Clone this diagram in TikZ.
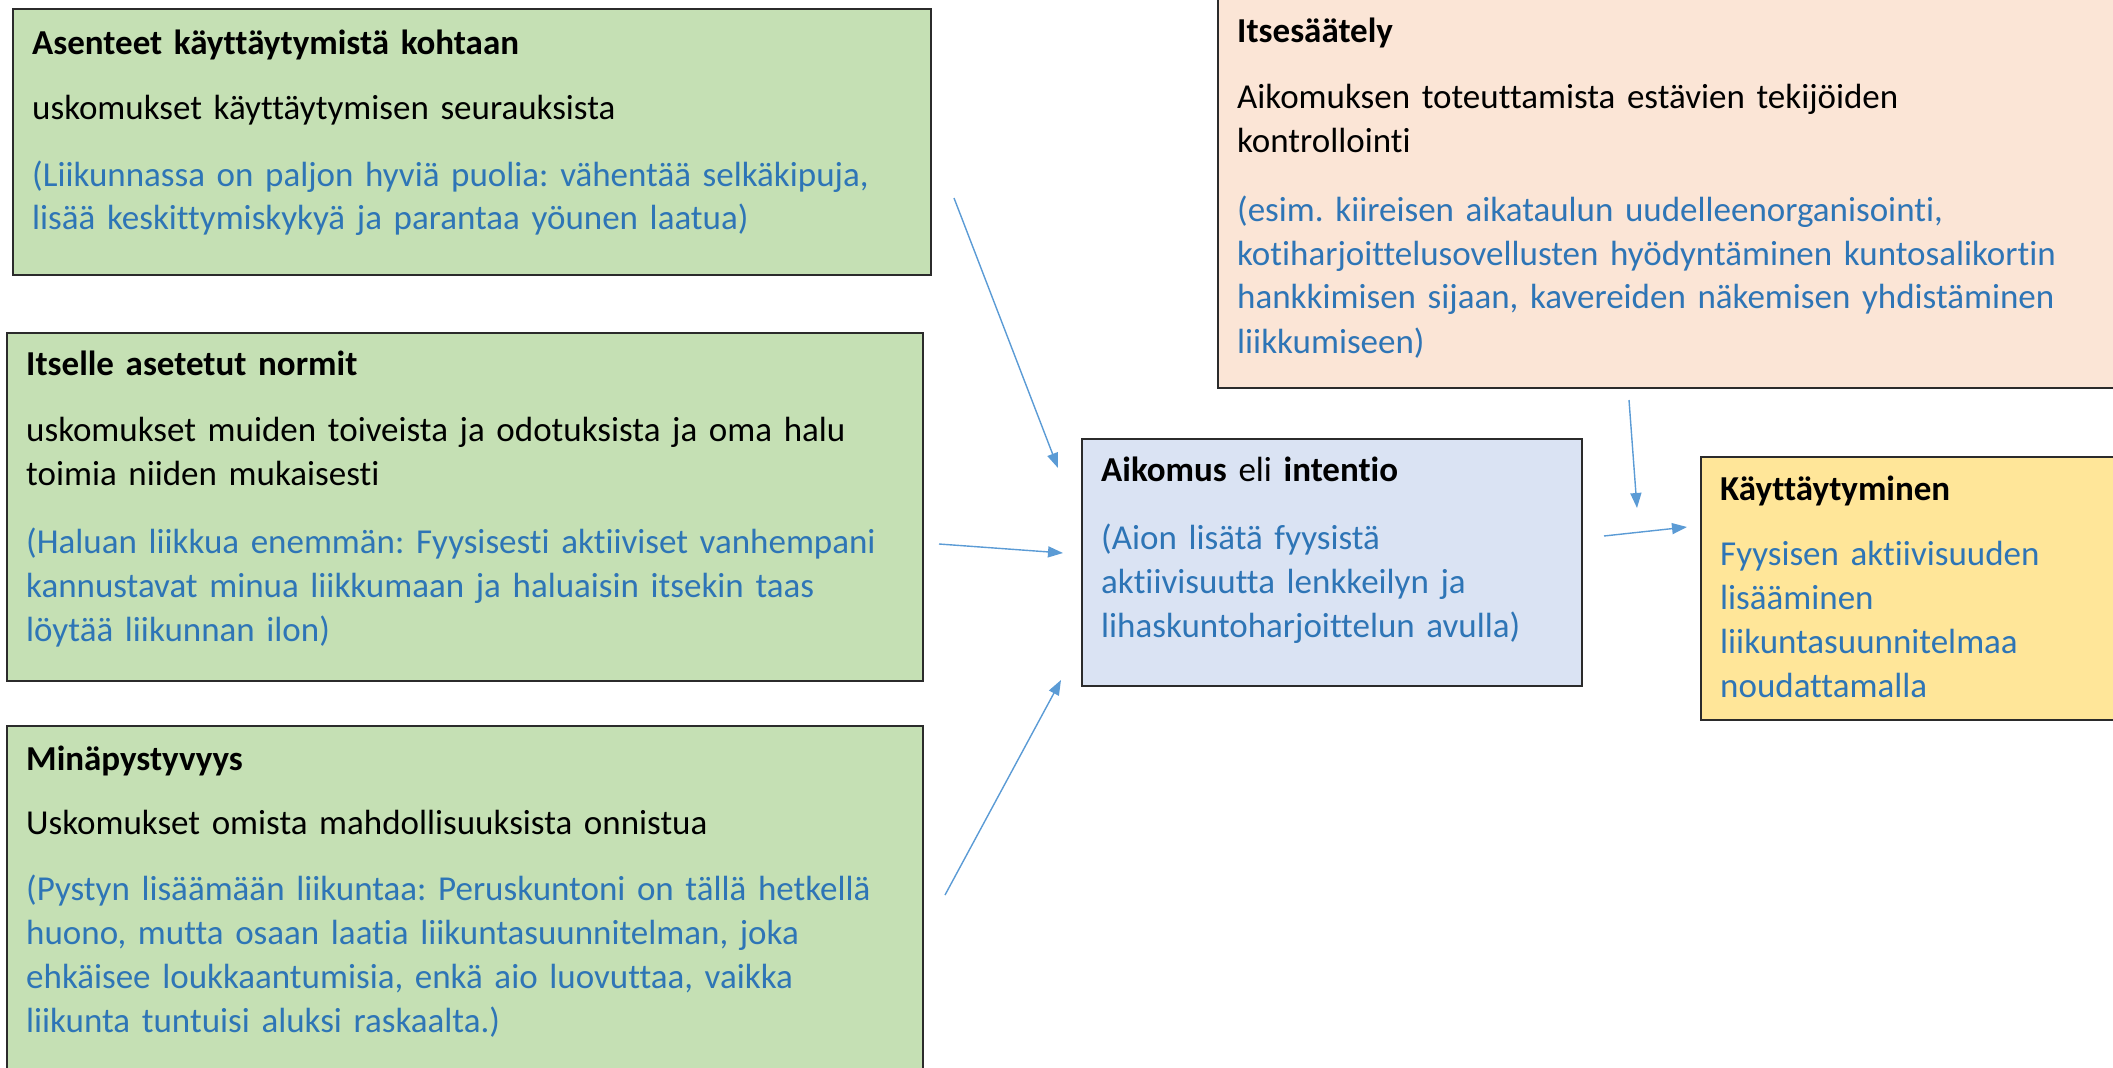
\documentclass[tikz,border=0pt]{standalone}
\usepackage{fontspec}
\setmainfont{Carlito}[Ligatures=NoCommon]
\usetikzlibrary{arrows.meta}
\definecolor{greenfill}{HTML}{C5E0B4}
\definecolor{peachfill}{HTML}{FBE5D6}
\definecolor{bluefill}{HTML}{DAE3F3}
\definecolor{yellowfill}{HTML}{FFE699}
\definecolor{boxline}{HTML}{2B2B2B}
\definecolor{exblue}{HTML}{2E75B6}
\definecolor{arrowblue}{HTML}{5B9BD5}
\frenchspacing
\begin{document}
\begin{tikzpicture}[x=1pt,y=-1pt,
  panel/.style={draw=boxline, line width=1.6pt, anchor=north west, inner sep=0pt, outer sep=0pt},
  txt/.style={anchor=base west, align=left, inner sep=0pt, text width=1100pt,
              font=\fontsize{35}{44}\selectfont},
  link/.style={draw=arrowblue, line width=1.4pt, -{Triangle[length=15pt,width=11pt]}}]
\useasboundingbox (0,0) rectangle (2113,1068);
\clip (0,0) rectangle (2113,1068);

% boxes
\node[panel, fill=greenfill, minimum width=918pt, minimum height=266pt] (asenteet) at (13,9) {};
\node[panel, fill=greenfill, minimum width=916pt, minimum height=348pt] (normit) at (7,333) {};
\node[panel, fill=greenfill, minimum width=916pt, minimum height=360pt] (mina) at (7,726) {};
\node[panel, fill=peachfill, minimum width=910pt, minimum height=400pt] (itse) at (1218,-12) {};
\node[panel, fill=bluefill, minimum width=500pt, minimum height=247pt] (aikomus) at (1082,439) {};
\node[panel, fill=yellowfill, minimum width=430pt, minimum height=263pt] (kayt) at (1701,457) {};

% texts
\node[txt] (t1) at (32,54) {\textbf{Asenteet käyttäytymistä kohtaan}\\[21pt]
uskomukset käyttäytymisen seurauksista\\[23pt]
\textcolor{exblue}{(Liikunnassa on paljon hyviä puolia: vähentää selkäkipuja,}\\
\textcolor{exblue}{lisää keskittymiskykyä ja parantaa yöunen laatua)}};

\node[txt] (t2) at (26,375) {\textbf{Itselle asetetut normit}\\[22pt]
uskomukset muiden toiveista ja odotuksista ja oma halu\\
toimia niiden mukaisesti\\[24pt]
\textcolor{exblue}{(Haluan liikkua enemmän: Fyysisesti aktiiviset vanhempani}\\
\textcolor{exblue}{kannustavat minua liikkumaan ja haluaisin itsekin taas}\\
\textcolor{exblue}{löytää liikunnan ilon)}};

\node[txt] (t3) at (26,770) {\textbf{Minäpystyvyys}\\[20pt]
Uskomukset omista mahdollisuuksista onnistua\\[22pt]
\textcolor{exblue}{(Pystyn lisäämään liikuntaa: Peruskuntoni on tällä hetkellä}\\
\textcolor{exblue}{huono, mutta osaan laatia liikuntasuunnitelman, joka}\\
\textcolor{exblue}{ehkäisee loukkaantumisia, enkä aio luovuttaa, vaikka}\\
\textcolor{exblue}{liikunta tuntuisi aluksi raskaalta.)}};

\node[txt] (t4) at (1237,42) {\textbf{Itsesäätely}\\[22pt]
Aikomuksen toteuttamista estävien tekijöiden\\
kontrollointi\\[25pt]
\textcolor{exblue}{(esim. kiireisen aikataulun uudelleenorganisointi,}\\
\textcolor{exblue}{kotiharjoittelusovellusten hyödyntäminen kuntosalikortin}\\
\textcolor{exblue}{hankkimisen sijaan, kavereiden näkemisen yhdistäminen}\\
\textcolor{exblue}{liikkumiseen)}};

\node[txt] (t5) at (1101,481) {\textbf{Aikomus} eli \textbf{intentio}\\[24pt]
\textcolor{exblue}{(Aion lisätä fyysistä}\\
\textcolor{exblue}{aktiivisuutta lenkkeilyn ja}\\
\textcolor{exblue}{lihaskuntoharjoittelun avulla)}};

\node[txt] (t6) at (1720,500) {\textbf{Käyttäytyminen}\\[21pt]
\textcolor{exblue}{Fyysisen aktiivisuuden}\\
\textcolor{exblue}{lisääminen}\\
\textcolor{exblue}{liikuntasuunnitelmaa}\\
\textcolor{exblue}{noudattamalla}};

% connector ends
\coordinate (a1s) at (954,198);  \coordinate (a1e) at (1058,468);
\coordinate (a2s) at (939,544);  \coordinate (a2e) at (1063,553);
\coordinate (a3s) at (945,895);  \coordinate (a3e) at (1061,680);
\coordinate (a4s) at (1629,400); \coordinate (a4e) at (1637,508);
\coordinate (a5s) at (1604,536); \coordinate (a5e) at (1687,527);

\draw[link] (a1s) -- (a1e);
\draw[link] (a2s) -- (a2e);
\draw[link] (a3s) -- (a3e);
\draw[link] (a4s) -- (a4e);
\draw[link] (a5s) -- (a5e);
\end{tikzpicture}
\end{document}
